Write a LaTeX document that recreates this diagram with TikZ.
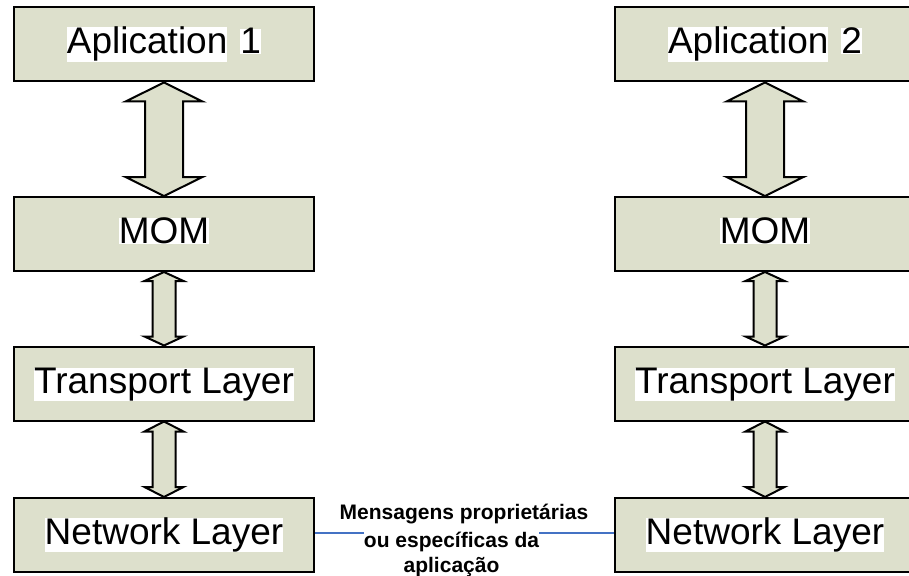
\documentclass[tikz,border=0pt]{standalone}
\usepackage{fontspec}
\setmainfont{Liberation Sans}
\usetikzlibrary{calc}

\definecolor{layerfill}{RGB}{221,224,204}
\definecolor{msgblue}{RGB}{68,114,196}

% white highlight behind a label
\newcommand\hilite[1]{{\setlength{\fboxsep}{0pt}\colorbox{white}{#1}}}

% block double arrow between two stacked layers
% #1 upper node, #2 lower node, #3 half head width, #4 half shaft width, #5 head length
\newcommand\vlink[5]{%
  \draw[linkarrow] (#1.south) -- ($(#1.south)+(#3,#5)$) -- ($(#1.south)+(#4,#5)$)
    -- ($(#2.north)+(#4,-#5)$) -- ($(#2.north)+(#3,-#5)$) -- (#2.north)
    -- ($(#2.north)+(-#3,-#5)$) -- ($(#2.north)+(-#4,-#5)$)
    -- ($(#1.south)+(-#4,#5)$) -- ($(#1.south)+(-#3,#5)$) -- cycle;}

\begin{document}
\begin{tikzpicture}[x=1pt,y=-1pt,
  layer/.style={draw, line width=2pt, fill=layerfill, minimum width=300pt,
    minimum height=74pt, inner sep=0pt, text height=27pt, text depth=8pt,
    font=\fontsize{37}{41}\selectfont},
  linkarrow/.style={draw, line width=2pt, fill=layerfill, line join=miter},
  msgtext/.style={inner sep=0pt, anchor=base, font=\fontsize{21}{25}\bfseries\selectfont},
  msgline/.style={draw=msgblue, line width=1.5pt}]
\clip (0,0) rectangle (909,575);

% left stack
\node[layer] (appL) at (164,44.5) {\hilite{Aplication}\hspace{13pt}\hilite{1}};
\node[layer] (momL) at (164,234) {\hilite{MOM}};
\node[layer] (trL)  at (164,383.5) {\hilite{Transport Layer}};
\node[layer] (netL) at (164,535) {\hilite{Network Layer}};

% right stack
\node[layer] (appR) at (765,44.5) {\hilite{Aplication}\hspace{13pt}\hilite{2}};
\node[layer] (momR) at (765,234) {\hilite{MOM}};
\node[layer] (trR)  at (765,383.5) {\hilite{Transport Layer}};
\node[layer] (netR) at (765,535) {\hilite{Network Layer}};

% arrows between layers
\vlink{appL}{momL}{38.5}{19}{19}
\vlink{momL}{trL}{19.5}{11.5}{9}
\vlink{trL}{netL}{19.5}{11.5}{10}
\vlink{appR}{momR}{38.5}{19}{19}
\vlink{momR}{trR}{19.5}{11.5}{9}
\vlink{trR}{netR}{19.5}{11.5}{10}

% message label between the network layers
\node[msgtext] (msg1) at (464,519) {Mensagens proprietárias};
\node[msgtext] (msg2) at (451.5,547) {ou específicas da};
\node[msgtext] (msg3) at (451.5,572) {aplicação};

\coordinate (msgL) at ($(netL.east)+(0,-2)$);
\coordinate (msgR) at ($(netR.west)+(0,-2)$);
\draw[msgline] (msgL) -- (msgL -| msg2.west);
\draw[msgline] (msgR -| msg2.east) -- (msgR);
\end{tikzpicture}
\end{document}
